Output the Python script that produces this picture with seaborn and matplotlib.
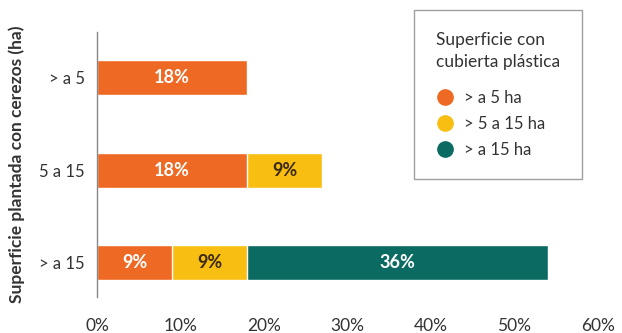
import numpy as np
import pandas as pd
import matplotlib.pyplot as plt
import seaborn as sns
from matplotlib.lines import Line2D

# data
categories = ["> a 5", "5 a 15", "> a 15"]
series_names = ["> a 5 ha", "> 5 a 15 ha", "> a 15 ha"]
s_small = [18, 18, 9]
s_mid = [0, 9, 9]
s_large = [0, 0, 36]
x_ticks = [0, 10, 20, 30, 40, 50, 60]

colors = ["#EE6A24", "#F9BE12", "#0B6B63"]
text_colors = ["white", "#3A2A10", "white"]

sns.set_theme(style="white")
plt.rcParams['font.family'] = ['Lato', 'DejaVu Sans']

df = pd.DataFrame({"cat": categories, "a": s_small, "b": s_mid, "c": s_large})
cum = np.cumsum(df[["a", "b", "c"]].values, axis=1)
starts = cum - df[["a", "b", "c"]].values

fig = plt.figure(figsize=(6.22, 3.33), dpi=100)
ax = fig.add_axes([0.156, 0.108, 0.805, 0.796])

# stacked bars: draw cumulative totals from the outermost segment inward
for j in [2, 1, 0]:
    sns.barplot(x=cum[:, j], y=df["cat"], color=colors[j], orient="h",
                width=0.38, saturation=1, ax=ax)

for i in range(len(categories)):
    for j, col in enumerate(["a", "b", "c"]):
        v = df[col].iloc[i]
        if v > 0:
            ax.text(starts[i, j] + v / 2, i, f"{v}%", ha="center", va="center",
                    color=text_colors[j], fontsize=13, fontweight="bold")

ax.set_xlim(0, 60)
ax.set_ylim(2.38, -0.5)
ax.set_xticks(x_ticks)
ax.set_xticklabels([f"{t}%" for t in x_ticks], fontsize=12.5, color="#333333")
ax.tick_params(axis="x", length=0, pad=15)
ax.tick_params(axis="y", length=0, pad=9, labelsize=12, labelcolor="#333333")
ax.set_xlabel("")
ax.set_ylabel("Superficie plantada con cerezos (ha)", fontsize=12.5,
              fontweight="bold", color="#333333", labelpad=10)
for s in ["top", "right", "bottom"]:
    ax.spines[s].set_visible(False)
ax.spines["left"].set_color("#888888")
ax.spines["left"].set_linewidth(1)

handles = [Line2D([0], [0], marker="o", linestyle="", markersize=11,
                  markerfacecolor=c, markeredgecolor=c) for c in colors]
leg = ax.legend(handles, series_names, title="Superficie con\ncubierta plástica",
                loc="upper right", bbox_to_anchor=(0.968, 1.083), frameon=True,
                fontsize=12, title_fontsize=12.5, handletextpad=0.6,
                handlelength=1.1, borderpad=1.3, labelspacing=0.6,
                borderaxespad=0, fancybox=False)
leg._legend_box.align = "left"
leg._legend_box.sep = 14
leg.get_frame().set_edgecolor("#888888")
leg.get_frame().set_linewidth(1)
leg.get_title().set_color("#333333")
leg.get_title().set_linespacing(1.5)
for t in leg.get_texts():
    t.set_color("#333333")

plt.savefig("out.png", dpi=100)
